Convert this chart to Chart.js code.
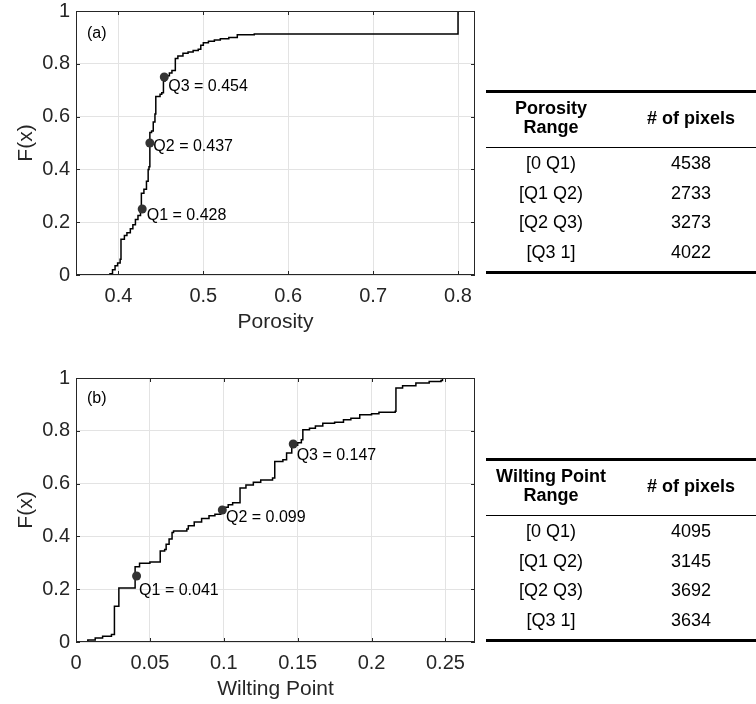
<!DOCTYPE html>
<html>
<head>
<meta charset="utf-8">
<script src="https://cdn.jsdelivr.net/npm/chart.js@4.4.0/dist/chart.umd.min.js"></script>
<style>
  body { margin: 0; width: 756px; height: 704px; overflow: hidden; background: #fff; position: relative;
         font-family: "Liberation Sans", Arial, sans-serif; color: #000; }
  canvas { position: absolute; left: 0; }
  #cdfA { top: 0; }
  #cdfB { top: 367px; }
  .tbl { position: absolute; left: 486px; width: 290px; border-top: 3px solid #000; border-bottom: 3px solid #000; font-size: 18px; }
  .hdr { display: flex; height: 50px; padding-bottom: 4px; align-items: center; border-bottom: 1px solid #000;
         font-weight: bold; line-height: 19px; }
  .rows { padding: 1px 0 4px 0; }
  .row { display: flex; height: 29.5px; align-items: center; }
  .c1 { width: 130px; text-align: center; }
  .c2 { width: 150px; text-align: center; }
</style>
</head>
<body>
<canvas id="cdfA" width="490" height="335"></canvas>
<canvas id="cdfB" width="490" height="335"></canvas>
<div class="tbl" id="tblA" style="top:90px"></div>
<div class="tbl" id="tblB" style="top:458px"></div>
<script>
const fTicks = [0, 0.2, 0.4, 0.6, 0.8, 1];
const quartileF = [0.25, 0.5, 0.75];
const rangeLabels = ['[0 Q1)', '[Q1 Q2)', '[Q2 Q3)', '[Q3 1]'];

// (a) porosity ECDF, jump points
const porosityX = [0.372, 0.390, 0.393, 0.396, 0.399, 0.402, 0.403, 0.407, 0.410, 0.414, 0.417, 0.420, 0.423, 0.426,
  0.427, 0.430, 0.433, 0.435, 0.436, 0.437, 0.439, 0.441, 0.443, 0.444, 0.449, 0.451, 0.453, 0.455, 0.460, 0.463,
  0.467, 0.470, 0.476, 0.482, 0.488, 0.494, 0.497, 0.500, 0.506, 0.513, 0.520, 0.530, 0.540, 0.560, 0.800];
const porosityF = [0, 0.005, 0.02, 0.035, 0.045, 0.06, 0.135, 0.15, 0.16, 0.175, 0.19, 0.21, 0.225, 0.245,
  0.31, 0.325, 0.355, 0.40, 0.41, 0.54, 0.545, 0.58, 0.61, 0.676, 0.685, 0.69, 0.735, 0.755, 0.765, 0.775,
  0.82, 0.83, 0.84, 0.845, 0.85, 0.855, 0.87, 0.88, 0.885, 0.89, 0.895, 0.90, 0.91, 0.913, 1.0];
const porosityQ = [0.428, 0.437, 0.454];
const porosityTicks = [0.4, 0.5, 0.6, 0.7, 0.8];
const porosityCounts = [4538, 2733, 3273, 4022];

// (b) wilting point ECDF
const wiltingX = [0.003, 0.008, 0.013, 0.018, 0.024, 0.026, 0.029, 0.040, 0.043, 0.050, 0.057, 0.060, 0.061, 0.063,
  0.065, 0.066, 0.075, 0.076, 0.080, 0.085, 0.090, 0.094, 0.098, 0.101, 0.103, 0.106, 0.111, 0.115, 0.120, 0.125,
  0.133, 0.1345, 0.140, 0.1425, 0.146, 0.150, 0.1525, 0.1535, 0.158, 0.162, 0.167, 0.175, 0.181, 0.186, 0.192,
  0.200, 0.205, 0.216, 0.2165, 0.221, 0.230, 0.239, 0.247, 0.248, 0.255];
const wiltingF = [0, 0.008, 0.015, 0.022, 0.028, 0.135, 0.205, 0.285, 0.298, 0.303, 0.345, 0.35, 0.37, 0.39,
  0.415, 0.42, 0.428, 0.44, 0.455, 0.468, 0.478, 0.484, 0.50, 0.51, 0.52, 0.527, 0.583, 0.595, 0.605, 0.614,
  0.621, 0.684, 0.69, 0.716, 0.745, 0.755, 0.766, 0.804, 0.81, 0.818, 0.829, 0.832, 0.842, 0.848, 0.861,
  0.865, 0.87, 0.874, 0.962, 0.971, 0.981, 0.987, 0.991, 1.0, 1.0];
const wiltingQ = [0.041, 0.099, 0.147];
const wiltingTicks = [0, 0.05, 0.1, 0.15, 0.2, 0.25];
const wiltingCounts = [4095, 3145, 3692, 3634];

const FAMILY = '"Liberation Sans", Arial, sans-serif';

// axes box, inward ticks, quartile labels, panel letter
const axesBox = {
  id: 'axesBox',
  afterDraw(chart, args, opts) {
    const { ctx, chartArea: a, scales: { x, y } } = chart;
    ctx.save();
    ctx.strokeStyle = '#262626';
    ctx.lineWidth = 1;
    ctx.strokeRect(a.left + 0.5, a.top + 0.5, a.width - 1, a.height - 1);
    ctx.beginPath();
    x.ticks.forEach(t => {
      const px = Math.round(x.getPixelForValue(t.value)) + 0.5;
      ctx.moveTo(px, a.bottom); ctx.lineTo(px, a.bottom - 4);
      ctx.moveTo(px, a.top); ctx.lineTo(px, a.top + 4);
    });
    y.ticks.forEach(t => {
      const py = Math.round(y.getPixelForValue(t.value)) + 0.5;
      ctx.moveTo(a.left, py); ctx.lineTo(a.left + 4, py);
      ctx.moveTo(a.right, py); ctx.lineTo(a.right - 4, py);
    });
    ctx.stroke();

    ctx.font = '16px ' + FAMILY;
    ctx.fillStyle = '#000';
    ctx.textBaseline = 'middle';
    ctx.textAlign = 'left';
    opts.q.forEach((q, i) => {
      const px = x.getPixelForValue(q), py = y.getPixelForValue(quartileF[i]);
      ctx.fillText(`Q${i + 1} = ${q.toFixed(3)}`, px + opts.dx[i], py + opts.dy[i]);
    });
    ctx.fillText(opts.panel, a.left + 11, a.top + opts.panelDy);
    ctx.restore();
  }
};

function cdfChart(id, xs, fs, qs, xTicks, xMin, xMax, xTitle, labelOpts) {
  const pts = xs.map((v, i) => ({ x: v, y: fs[i] }));
  const qpts = qs.map((v, i) => ({ x: v, y: quartileF[i] }));
  return new Chart(document.getElementById(id), {
    type: 'scatter',
    data: {
      datasets: [
        { data: pts, showLine: true, stepped: true, borderColor: '#000', borderWidth: 1.5,
          pointRadius: 0, order: 2 },
        { data: qpts, pointRadius: 4.5, backgroundColor: '#333', borderColor: '#333', borderWidth: 0, order: 1 }
      ]
    },
    options: {
      responsive: false,
      animation: false,
      devicePixelRatio: 1,
      layout: { padding: { top: 11, right: 15, left: 0, bottom: 0 } },
      plugins: { legend: { display: false }, tooltip: { enabled: false }, axesBox: labelOpts },
      scales: {
        x: {
          type: 'linear', min: xMin, max: xMax,
          afterBuildTicks: s => { s.ticks = xTicks.map(v => ({ value: v })); },
          afterFit: s => { s.height = 60; s.paddingLeft = 0; s.paddingRight = 0; },
          grid: { color: '#e3e3e3', drawTicks: false },
          border: { display: false },
          ticks: { padding: 9, color: '#262626', font: { size: 20, family: FAMILY }, maxRotation: 0,
                   autoSkip: false, callback: v => String(+v.toFixed(3)) },
          title: { display: true, text: xTitle, color: '#262626', font: { size: 21, family: FAMILY },
                   padding: { top: 0, bottom: 0 } }
        },
        y: {
          type: 'linear', min: 0, max: 1,
          afterBuildTicks: s => { s.ticks = fTicks.map(v => ({ value: v })); },
          afterFit: s => { s.width = 76; s.paddingTop = 0; s.paddingBottom = 0; },
          grid: { color: '#e3e3e3', drawTicks: false },
          border: { display: false },
          ticks: { padding: 6, color: '#262626', font: { size: 20, family: FAMILY },
                   callback: v => String(+v.toFixed(2)) },
          title: { display: true, text: 'F(x)', color: '#262626', font: { size: 21, family: FAMILY },
                   padding: { top: 14, bottom: 0 } }
        }
      }
    },
    plugins: [axesBox]
  });
}

cdfChart('cdfA', porosityX, porosityF, porosityQ, porosityTicks, 0.35, 0.82, 'Porosity',
  { q: porosityQ, dx: [4.5, 3.5, 4], dy: [7, 3.7, 9.7], panel: '(a)', panelDy: 23 });
cdfChart('cdfB', wiltingX, wiltingF, wiltingQ, wiltingTicks, 0, 0.27, 'Wilting Point',
  { q: wiltingQ, dx: [2.5, 3.7, 3.4], dy: [14.7, 7.8, 11.8], panel: '(b)', panelDy: 21 });

function buildTable(id, headLines, counts) {
  const el = document.getElementById(id);
  let html = `<div class="hdr"><div class="c1">${headLines.join('<br>')}</div><div class="c2"># of pixels</div></div><div class="rows">`;
  counts.forEach((c, i) => {
    html += `<div class="row"><div class="c1">${rangeLabels[i]}</div><div class="c2">${c}</div></div>`;
  });
  el.innerHTML = html + '</div>';
}
buildTable('tblA', ['Porosity', 'Range'], porosityCounts);
buildTable('tblB', ['Wilting Point', 'Range'], wiltingCounts);
</script>
</body>
</html>
